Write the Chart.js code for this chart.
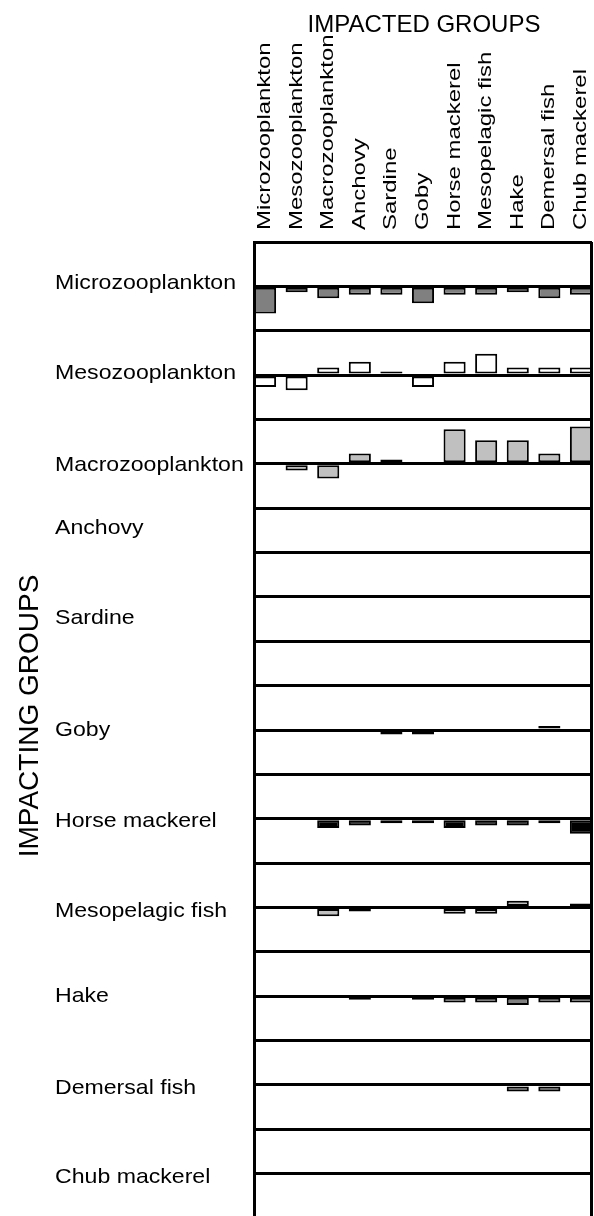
<!DOCTYPE html>
<html>
<head>
<meta charset="utf-8">
<script src="https://cdn.jsdelivr.net/npm/chart.js@4.4.1/dist/chart.umd.min.js"></script>
<style>
  html, body { margin: 0; padding: 0; background: #fff; overflow: hidden; }
  canvas { display: block; }
</style>
</head>
<body>
<canvas id="mti" width="594" height="1219"></canvas>
<script>
// impacted groups (columns) and impacting groups (rows)
const impacted = ['Microzooplankton', 'Mesozooplankton', 'Macrozooplankton', 'Anchovy', 'Sardine', 'Goby',
                  'Horse mackerel', 'Mesopelagic fish', 'Hake', 'Demersal fish', 'Chub mackerel'];
const impacting = ['Microzooplankton', 'Mesozooplankton', 'Macrozooplankton', 'Anchovy', 'Sardine', 'Goby',
                   'Horse mackerel', 'Mesopelagic fish', 'Hake', 'Demersal fish', 'Chub mackerel'];

// relative impact of each impacting group on the impacted groups
const microzooplankton = [-0.61, -0.13, -0.27, -0.19, -0.19, -0.38, -0.19, -0.19, -0.13, -0.27, -0.19];
const mesozooplankton  = [-0.27, -0.34, 0.17, 0.30, 0.08, -0.27, 0.30, 0.48, 0.17, 0.17, 0.17];
const macrozooplankton = [0, -0.15, -0.33, 0.23, 0.10, 0, 0.78, 0.53, 0.53, 0.23, 0.84];
const anchovy          = [0, 0, 0, 0, 0, 0, 0, 0, 0, 0, 0];
const sardine          = [0, 0, 0, 0, 0, 0, 0, 0, 0, 0, 0];
const goby             = [0, 0, 0, 0, -0.10, -0.10, 0, 0, 0, 0.09, 0];
const horseMackerel    = [0, 0, -0.21, -0.15, -0.10, -0.10, -0.21, -0.15, -0.15, -0.10, -0.34];
const mesopelagicFish  = [0, 0, -0.20, -0.09, 0, 0, -0.14, -0.14, 0.15, 0, 0.09];
const hake             = [0, 0, 0, -0.08, 0, -0.08, -0.14, -0.14, -0.20, -0.14, -0.14];
const demersalFish     = [0, 0, 0, 0, 0, 0, 0, 0, -0.15, -0.15, 0];
const chubMackerel     = [0, 0, 0, 0, 0, 0, 0, 0, 0, 0, 0];

const rows = [microzooplankton, mesozooplankton, macrozooplankton, anchovy, sardine, goby,
              horseMackerel, mesopelagicFish, hake, demersalFish, chubMackerel];

// styling
const rowFill = ['#808080', '#ffffff', '#c0c0c0', '#808080', '#808080', '#000000',
                 '#000000', '#c0c0c0', '#808080', '#555555', '#808080'];
const rowLabelShift = [-3, -2, 1, -24, -23, 0, 2, 4, 0, 3, 4];
const FONT = '"Liberation Sans", Arial, sans-serif';

const labelPlugin = {
  id: 'mtiLabels',
  afterDraw(chart) {
    const ctx = chart.ctx;
    const area = chart.chartArea;
    const xs = chart.scales.x;
    ctx.save();
    ctx.fillStyle = '#000';

    // right edge of the box
    ctx.strokeStyle = '#000';
    ctx.lineWidth = 3;
    ctx.beginPath();
    ctx.moveTo(area.right - 0.5, area.top);
    ctx.lineTo(area.right - 0.5, area.bottom);
    ctx.stroke();

    // titles
    ctx.font = '24px ' + FONT;
    ctx.textAlign = 'center';
    ctx.textBaseline = 'alphabetic';
    ctx.fillText('IMPACTED GROUPS', 424, 32);

    ctx.save();
    ctx.translate(38, 716);
    ctx.rotate(-Math.PI / 2);
    ctx.font = '28px ' + FONT;
    ctx.fillText('IMPACTING GROUPS', 0, 0);
    ctx.restore();

    // column labels (rotated)
    ctx.font = '18px ' + FONT;
    ctx.textAlign = 'left';
    impacted.forEach((name, i) => {
      ctx.save();
      ctx.translate(xs.getPixelForValue(i) + 5, area.top - 12);
      ctx.rotate(-Math.PI / 2);
      ctx.scale(1.33, 1);
      ctx.fillText(name, 0, 0);
      ctx.restore();
    });

    // row labels
    ctx.font = '21px ' + FONT;
    ctx.textBaseline = 'middle';
    impacting.forEach((name, i) => {
      const y = chart.scales['y' + i].getPixelForValue(0) + rowLabelShift[i];
      ctx.save();
      ctx.translate(55, y);
      ctx.scale(1.1, 1);
      ctx.fillText(name, 0, 0);
      ctx.restore();
    });
    ctx.restore();
  }
};

const scales = {
  x: {
    type: 'linear',
    display: false,
    min: -0.35,
    max: 10.35,
    offset: false,
    ticks: { stepSize: 1, includeBounds: false }
  }
};
// stacked axes are placed bottom-up, so register the last row first
for (let i = impacting.length - 1; i >= 0; i--) {
  scales['y' + i] = {
    type: 'linear',
    position: 'left',
    stack: 'rows',
    stackWeight: 1,
    min: -1,
    max: 1,
    offset: false,
    ticks: { display: false, stepSize: 1 },
    grid: { color: '#000', lineWidth: 3, drawTicks: false },
    border: { display: true, color: '#000', width: 3 }
  };
}

new Chart(document.getElementById('mti'), {
  type: 'bar',
  data: {
    datasets: impacting.map((name, i) => ({
      label: name,
      data: rows[i].map((v, j) => ({ x: j, y: v })),
      yAxisID: 'y' + i,
      backgroundColor: rowFill[i],
      borderColor: '#000',
      borderWidth: 2,
      borderSkipped: false,
      grouped: false,
      categoryPercentage: 1,
      barPercentage: 0.7
    }))
  },
  options: {
    responsive: false,
    animation: false,
    events: [],
    layout: { padding: { top: 242, left: 254, right: 2, bottom: 1 } },
    plugins: { legend: { display: false }, tooltip: { enabled: false } },
    scales: scales
  },
  plugins: [labelPlugin]
});
</script>
</body>
</html>
